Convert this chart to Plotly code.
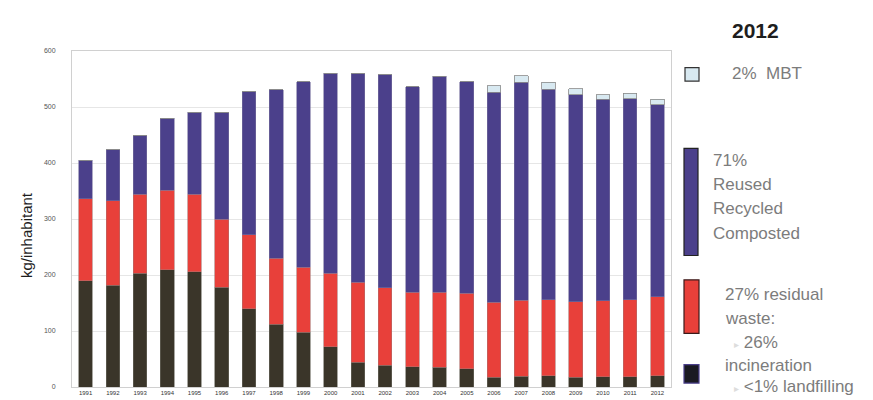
import plotly.graph_objects as go

years = [str(y) for y in range(1991, 2013)]
landfill_incin = [190, 182, 203, 209, 206, 178, 140, 112, 98, 72, 44, 39, 36, 35, 33, 17, 19, 20, 17, 18, 18, 20]
residual_red = [146, 151, 141, 142, 138, 122, 132, 118, 116, 131, 143, 138, 133, 134, 134, 134, 136, 136, 135, 136, 138, 141]
recycled = [69, 91, 106, 129, 147, 191, 255, 301, 331, 357, 373, 381, 367, 386, 378, 375, 389, 376, 370, 360, 359, 343]
mbt = [0, 0, 0, 0, 0, 0, 0, 0, 0, 0, 0, 0, 0, 0, 0, 12, 12, 12, 11, 8, 10, 10]
y_ticks = [0, 100, 200, 300, 400, 500, 600]

FONT = "Liberation Sans, Arial, sans-serif"

fig = go.Figure()
fig.add_bar(x=years, y=landfill_incin, marker=dict(color="#3a3529", line=dict(color="#6d6a60", width=0.6)))
fig.add_bar(x=years, y=residual_red, marker=dict(color="#e8403a", line=dict(color="#b0706c", width=0.6)))
fig.add_bar(x=years, y=recycled, marker=dict(color="#4b408b", line=dict(color="#77709f", width=0.6)))
fig.add_bar(x=years, y=mbt, marker=dict(color="#d8e9f1", line=dict(color="#8a8a8a", width=0.8)))

fig.update_layout(
    width=873, height=400,
    margin=dict(l=64, r=210, t=43, b=12),
    barmode="stack", bargap=0.5,
    showlegend=False,
    plot_bgcolor="white", paper_bgcolor="white",
    font=dict(family=FONT),
)
fig.update_xaxes(
    type="category", showgrid=False, showline=True, linecolor="#d0d0d0", linewidth=1,
    mirror=True, ticks="", tickfont=dict(size=6, color="#333333"), ticklen=0,
)
fig.update_yaxes(
    range=[0, 600], tickvals=y_ticks, showgrid=True, gridcolor="#e6e6e6", gridwidth=1,
    showline=True, linecolor="#d0d0d0", mirror=True, zeroline=False,
    tickfont=dict(size=7, color="#555555"), ticks="", ticklabelstandoff=14,
)

# legend swatches (paper-pixel placement)
W, H = 873, 400
L, R, T, B = 64, 210, 43, 12
pw, ph = W - L - R, H - T - B
def px(x):
    return (x - L) / pw
def py(y):
    return (H - B - y) / ph

fig.add_annotation(xref="paper", yref="paper", x=px(18), y=py(232), text="kg/inhabitant",
                   textangle=-90, showarrow=False, xanchor="center", yanchor="middle",
                   font=dict(size=15, color="#1e1e1e", family=FONT))

swatches = [
    (677, 60, 691, 74, "#d8e9f1", "#333333"),
    (676, 143, 690, 253, "#4b408b", "#222222"),
    (676, 278, 691, 333, "#e8403a", "#3a1a1a"),
    (676, 365, 691, 384, "#1a1a22", "#4b408b"),
]
for x0, y0, x1, y1, fc, lc in swatches:
    fig.add_shape(type="rect", xref="paper", yref="paper",
                  x0=px(x0), x1=px(x1), y0=py(y1), y1=py(y0),
                  fillcolor=fc, line=dict(color=lc, width=1.2))

def note(x, y, text, size=17, color="#7c7c7c", bold=False):
    fig.add_annotation(xref="paper", yref="paper", x=px(x), y=py(y), text=("<b>%s</b>" % text) if bold else text,
                       showarrow=False, xanchor="left", yanchor="middle",
                       font=dict(size=size, color=color, family=FONT))

note(722, 22, "2012", size=21, color="#1e1e1e", bold=True)
note(722, 66, "2%  MBT")
note(703, 155, "71%")
note(703, 180, "Reused")
note(703, 205, "Recycled")
note(703, 230, "Composted")
note(715, 293, "27% residual")
note(715, 318, "waste:")
note(724, 342, "<span style='color:#dddddd;font-size:10px'>▸</span> 26%")
note(715, 366, "incineration")
note(724, 387, "<span style='color:#dddddd;font-size:10px'>▸</span> <1% landfilling")

fig.write_html("out.html")
